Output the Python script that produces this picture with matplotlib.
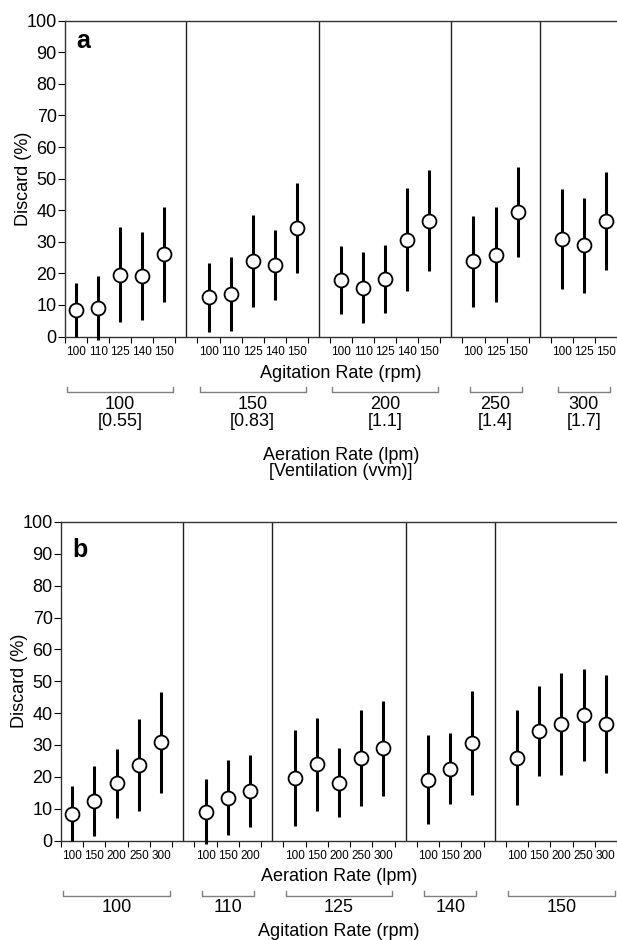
"""
Discard (%) vs agitation / aeration rate, two panels.
"""

import numpy as np
import matplotlib
matplotlib.use("Agg")
import matplotlib.pyplot as plt
from matplotlib.transforms import blended_transform_factory

#############################
# DATA
#############################

agitation = [100, 110, 125, 140, 150]          # rpm
aeration = [100, 150, 200, 250, 300]           # lpm
ventilation = ["[0.55]", "[0.83]", "[1.1]", "[1.4]", "[1.7]"]  # vvm

# rows = aeration rate, columns = agitation rate (nan = not run)
discard_mean = np.array([
    [8.4, 9.1, 19.6, 19.1, 26.0],
    [12.4, 13.5, 23.9, 22.6, 34.3],
    [17.9, 15.5, 18.1, 30.6, 36.7],
    [23.8, np.nan, 25.9, np.nan, 39.4],
    [30.8, np.nan, 28.9, np.nan, 36.6],
])
discard_sd = np.array([
    [8.6, 10.2, 15.0, 14.0, 15.0],
    [11.0, 11.7, 14.5, 11.2, 14.2],
    [10.7, 11.2, 10.8, 16.3, 16.0],
    [14.5, np.nan, 15.0, np.nan, 14.3],
    [15.8, np.nan, 15.0, np.nan, 15.4],
])

#############################
# PLOT
#############################

plt.rcParams["font.family"] = ["Liberation Sans", "DejaVu Sans"]

W, H = 617, 940
fig = plt.figure(figsize=(W / 100, H / 100), dpi=100)


def draw_panel(left, top, bottom, groups, letter, letter_y, ylab_x):
    ax = fig.add_axes([left / W, 1 - bottom / H, 1 - left / W, (bottom - top) / H])
    pos = 1
    xt, xl, spans = [], [], []
    for members, means, sds in groups:
        x = np.arange(pos, pos + len(members))
        ax.errorbar(x, means, yerr=sds, fmt="o", color="black", ecolor="black",
                    elinewidth=2.2, capsize=0, ms=10, mfc="white", mec="black",
                    mew=1.3, clip_on=False, zorder=3)
        xt += list(x)
        xl += [str(m) for m in members]
        spans.append((x[0], x[-1]))
        pos = x[-1] + 1
        ax.axvline(pos, color="#222222", lw=1.0, zorder=1)
        pos += 1

    ax.set_xlim(0.5, 25.45)
    ax.set_ylim(0, 100)
    ax.set_yticks(range(0, 101, 10))
    ax.set_xticks(xt)
    ax.set_xticklabels(xl)
    ax.set_xticks(np.arange(0.5, 26, 1.0), minor=True)
    ax.tick_params(axis="x", which="major", length=0, pad=7, labelsize=8.5)
    ax.tick_params(axis="x", which="minor", length=4, width=0.8, direction="out")
    ax.tick_params(axis="y", length=5, width=0.8, direction="out", labelsize=13, pad=1)
    ax.spines["right"].set_visible(False)
    for s in ["left", "top", "bottom"]:
        ax.spines[s].set_color("#333333")
        ax.spines[s].set_linewidth(1.0)
    ax.set_ylabel("Discard (%)", fontsize=13)
    ax.yaxis.set_label_coords(ylab_x, 0.5)
    ax.text(1.0, letter_y, letter, fontsize=18, fontweight="bold",
            ha="left", va="baseline")
    return ax, spans


def bracket(ax, spans, labels, y_top, y_bot, y_text, step):
    tr = blended_transform_factory(ax.transData, fig.transFigure)
    for (x0, x1), lab in zip(spans, labels):
        pad = 0.4 if x1 - x0 > 3 else 0.18
        a, b = x0 - pad, x1 + pad
        ax.plot([a, a, b, b], [1 - y_top / H, 1 - y_bot / H, 1 - y_bot / H, 1 - y_top / H],
                color="#808080", lw=1.0, transform=tr, clip_on=False)
        for k, line in enumerate(lab):
            ax.text((x0 + x1) / 2, 1 - (y_text + k * step) / H, line, fontsize=13,
                    ha="center", va="center", transform=tr)


# panel a: grouped by aeration rate
groups_a = []
for i in range(len(aeration)):
    ok = ~np.isnan(discard_mean[i])
    groups_a.append(([agitation[j] for j in range(len(agitation)) if ok[j]],
                     discard_mean[i][ok], discard_sd[i][ok]))
ax_a, spans_a = draw_panel(65, 20.7, 336.5, groups_a, "a", 91.2, -0.06)
bracket(ax_a, spans_a, [[str(a), v] for a, v in zip(aeration, ventilation)],
        387, 392, 404, 18)
fig.text(341 / W, 1 - 373 / H, "Agitation Rate (rpm)", fontsize=13, ha="center", va="center")
fig.text(341 / W, 1 - 455 / H, "Aeration Rate (lpm)", fontsize=13, ha="center", va="center")
fig.text(341 / W, 1 - 472 / H, "[Ventilation (vvm)]", fontsize=13, ha="center", va="center")

# panel b: grouped by agitation rate
groups_b = []
for j in range(len(agitation)):
    ok = ~np.isnan(discard_mean[:, j])
    groups_b.append(([aeration[i] for i in range(len(aeration)) if ok[i]],
                     discard_mean[:, j][ok], discard_sd[:, j][ok]))
ax_b, spans_b = draw_panel(61, 522, 840.5, groups_b, "b", 89.0, -0.059)
bracket(ax_b, spans_b, [[str(a)] for a in agitation], 890.7, 896, 908, 18)
fig.text(339 / W, 1 - 876.7 / H, "Aeration Rate (lpm)", fontsize=13, ha="center", va="center")
fig.text(339 / W, 1 - 931.5 / H, "Agitation Rate (rpm)", fontsize=13, ha="center", va="center")

plt.savefig("out.png", dpi=100)
plt.close(fig)
